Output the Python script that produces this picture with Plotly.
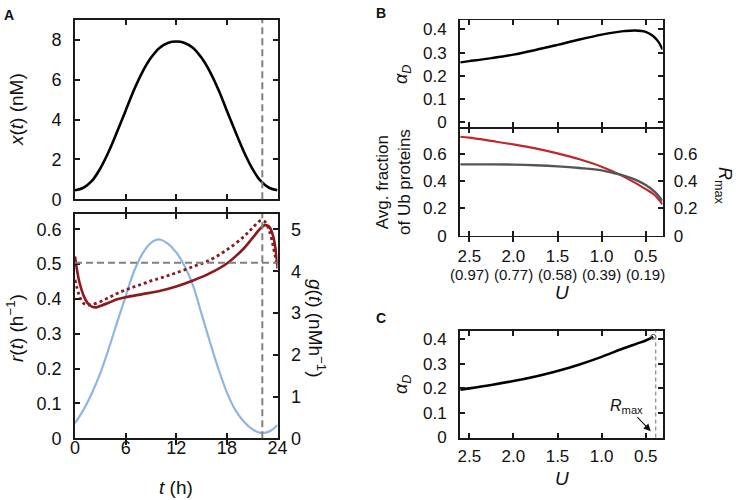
import plotly.graph_objects as go

W, H = 736, 500

# ---------------- data ----------------
# Panel A top: x(t)
t_hours = list(range(0, 25))
x_t = [0.45, 0.58, 0.92, 1.55, 2.4, 3.4, 4.45, 5.5, 6.4, 7.1, 7.6, 7.85, 7.92,
       7.85, 7.6, 7.1, 6.4, 5.5, 4.45, 3.4, 2.4, 1.55, 0.92, 0.58, 0.45]

# Panel A bottom: g(t) (blue, right axis)
g_t = [0.36, 0.68, 1.08, 1.56, 2.15, 2.78, 3.4, 4.0, 4.42, 4.68, 4.76, 4.66, 4.45,
       4.12, 3.65, 2.98, 2.3, 1.66, 1.1, 0.68, 0.4, 0.22, 0.13, 0.16, 0.32]

# r(t) solid
t_r = [0, 0.5, 1, 1.5, 2, 2.5, 3, 4, 5, 6, 8, 10, 12, 14, 16, 18, 20, 21, 22, 22.5, 23, 23.5, 24]
r_t = [0.522, 0.45, 0.411, 0.388, 0.378, 0.376, 0.38, 0.389, 0.399, 0.405, 0.414, 0.423,
       0.436, 0.453, 0.474, 0.502, 0.545, 0.574, 0.603, 0.612, 0.608, 0.579, 0.493]

# r(t) dotted
t_r_dot = [0, 0.5, 1, 1.5, 2, 3, 4, 5, 6, 7, 8, 9, 10, 11, 12, 14, 16, 18, 20, 21, 22,
           22.5, 23, 23.5, 24]
r_dot = [0.455, 0.411, 0.388, 0.383, 0.384, 0.392, 0.404, 0.416, 0.426, 0.435, 0.443,
         0.452, 0.459, 0.467, 0.475, 0.493, 0.512, 0.541, 0.579, 0.603, 0.625, 0.622,
         0.598, 0.55, 0.488]

t_dashed = 22.2
r_dashed = 0.504
t_ticks = [0, 6, 12, 18, 24]

# Panel B top: alpha_D vs U
U_Btop = [2.6, 2.5, 2.25, 2.0, 1.75, 1.5, 1.25, 1.0, 0.85, 0.75, 0.62, 0.5, 0.42, 0.36, 0.31]
alpha_Btop = [0.258, 0.263, 0.276, 0.291, 0.311, 0.333, 0.356, 0.377, 0.387, 0.392,
              0.395, 0.389, 0.372, 0.348, 0.313]

# Panel B bottom: avg fraction of Ub proteins (red) and R_max (gray)
U_Bred = [2.6, 2.5, 2.25, 2.0, 1.75, 1.5, 1.25, 1.0, 0.85, 0.75, 0.5, 0.4, 0.31]
frac_ub = [0.724, 0.717, 0.693, 0.668, 0.639, 0.602, 0.559, 0.505, 0.463, 0.432, 0.341,
           0.298, 0.229]
U_Bgray = [2.6, 2.25, 2.0, 1.75, 1.5, 1.25, 1.0, 0.85, 0.75, 0.62, 0.5, 0.4, 0.31]
r_max = [0.522, 0.522, 0.52, 0.515, 0.507, 0.495, 0.478, 0.456, 0.439, 0.41, 0.371,
         0.322, 0.254]

U_ticks = [2.5, 2.0, 1.5, 1.0, 0.5]
U_ticktext = ["2.5", "2.0", "1.5", "1.0", "0.5"]
frac_labels = ["(0.97)", "(0.77)", "(0.58)", "(0.39)", "(0.19)"]

# Panel C
U_C = [2.6, 2.5, 2.25, 2.0, 1.75, 1.5, 1.25, 1.0, 0.75, 0.6, 0.5, 0.414]
alpha_C = [0.194, 0.199, 0.213, 0.229, 0.248, 0.27, 0.297, 0.328, 0.363, 0.382, 0.395, 0.41]
U_rmax_C = 0.387

# ---------------- styling ----------------
FONT = "Liberation Sans, Arial, sans-serif"
AXC = "#1a1a1a"
DARKRED = "#8b1a1f"
BLUE = "#8fb6dc"
BRED = "#c0272d"
BGRAY = "#555555"
DASH = "#808080"


def px_x(a, b):
    return [a / W, b / W]


def px_y(top, bottom):
    return [1 - bottom / H, 1 - top / H]


def ax(**kw):
    d = dict(showline=True, linecolor=AXC, linewidth=1.8, ticks="inside", ticklen=5,
             tickwidth=1.5, tickcolor=AXC, showgrid=False, zeroline=False, automargin=False,
             tickfont=dict(family=FONT, size=17, color="#111"))
    d.update(kw)
    return d


fig = go.Figure()

# A top
fig.add_trace(go.Scatter(x=t_hours, y=x_t, mode="lines", line=dict(color="black", width=2.6, shape="spline"),
                         xaxis="x", yaxis="y", showlegend=False))
# A bottom
fig.add_trace(go.Scatter(x=t_hours, y=g_t, mode="lines", line=dict(color=BLUE, width=2.2, shape="spline"),
                         xaxis="x2", yaxis="y2", showlegend=False))
fig.add_trace(go.Scatter(x=t_r_dot, y=r_dot, mode="lines",
                         line=dict(color=DARKRED, width=2.8, dash="dot", shape="spline"),
                         xaxis="x2", yaxis="y3", showlegend=False))
fig.add_trace(go.Scatter(x=t_r, y=r_t, mode="lines", line=dict(color=DARKRED, width=2.6, shape="spline"),
                         xaxis="x2", yaxis="y3", showlegend=False))
# B top
fig.add_trace(go.Scatter(x=U_Btop, y=alpha_Btop, mode="lines", line=dict(color="black", width=2.4, shape="spline"),
                         xaxis="x3", yaxis="y4", showlegend=False))
# B bottom
fig.add_trace(go.Scatter(x=U_Bgray, y=r_max, mode="lines", line=dict(color=BGRAY, width=2.4, shape="spline"),
                         xaxis="x4", yaxis="y6", showlegend=False))
fig.add_trace(go.Scatter(x=U_Bred, y=frac_ub, mode="lines", line=dict(color=BRED, width=2.2, shape="spline"),
                         xaxis="x4", yaxis="y5", showlegend=False))
# C
fig.add_trace(go.Scatter(x=U_C, y=alpha_C, mode="lines", line=dict(color="black", width=2.6, shape="spline"),
                         xaxis="x5", yaxis="y7", showlegend=False))
fig.add_trace(go.Scatter(x=[U_C[-1]], y=[alpha_C[-1]], mode="markers",
                         marker=dict(symbol="circle-open", size=5, color="#444", line=dict(width=1)),
                         xaxis="x5", yaxis="y7", showlegend=False))

Ax = px_x(75, 277.5)
Bx = px_x(460, 662.5)
U_range = [2.605, 0.31]

fig.update_layout(
    width=W, height=H, margin=dict(l=0, r=0, t=0, b=0, autoexpand=False),
    paper_bgcolor="white", plot_bgcolor="white",
    font=dict(family=FONT, color="#111"),
    xaxis=ax(domain=Ax, anchor="y", range=[0, 24], tickvals=t_ticks, showticklabels=False, mirror="allticks"),
    yaxis=ax(domain=px_y(20, 199.3), anchor="x", range=[0, 9], tickvals=[0, 2, 4, 6, 8],
             mirror="allticks", tickfont=dict(family=FONT, size=18), ticklabelstandoff=8),
    xaxis2=ax(domain=Ax, anchor="y2", range=[0, 24], tickvals=t_ticks, mirror="allticks",
              tickfont=dict(family=FONT, size=18), ticklabelstandoff=-8),
    yaxis2=ax(domain=px_y(214, 438.3), anchor="x2", side="right", range=[0, 5.37],
              tickvals=[0, 1, 2, 3, 4, 5], tickfont=dict(family=FONT, size=18), ticklabelstandoff=8),
    yaxis3=ax(domain=px_y(214, 438.3), anchor="x2", side="left", overlaying="y2", range=[0, 0.644],
              tickvals=[0, 0.1, 0.2, 0.3, 0.4, 0.5, 0.6], ticktext=["0", "0.1", "0.2", "0.3", "0.4", "0.5", "0.6"],
              tickfont=dict(family=FONT, size=18), ticklabelstandoff=8),
    xaxis3=ax(domain=Bx, anchor="y4", range=U_range, tickvals=U_ticks, showticklabels=False,
              mirror="allticks", linewidth=1.1),
    yaxis4=ax(domain=px_y(20, 127.7), anchor="x3", range=[-0.023, 0.44], tickvals=[0, 0.1, 0.2, 0.3, 0.4],
              ticktext=["0", "0.1", "0.2", "0.3", "0.4"], mirror="allticks", ticklabelstandoff=8),
    xaxis4=ax(domain=Bx, anchor="y5", range=U_range, tickvals=U_ticks, ticktext=U_ticktext,
              mirror="allticks", linewidth=1.1, ticklabelstandoff=5),
    yaxis5=ax(domain=px_y(127.7, 235.7), anchor="x4", side="left", range=[0, 0.79],
              tickvals=[0, 0.2, 0.4, 0.6], ticktext=["0", "0.2", "0.4", "0.6"], ticklabelstandoff=8),
    yaxis6=ax(domain=px_y(127.7, 235.7), anchor="x4", side="right", overlaying="y5", range=[0, 0.79],
              tickvals=[0, 0.2, 0.4, 0.6], ticktext=["0", "0.2", "0.4", "0.6"], ticklabelstandoff=6),
    xaxis5=ax(domain=Bx, anchor="y7", range=U_range, tickvals=U_ticks, ticktext=U_ticktext,
              mirror="allticks", ticklabelstandoff=2),
    yaxis7=ax(domain=px_y(330.7, 437.5), anchor="x5", range=[-0.002, 0.435], tickvals=[0, 0.1, 0.2, 0.3, 0.4],
              ticktext=["0", "0.1", "0.2", "0.3", "0.4"], mirror="allticks", ticklabelstandoff=8),
)

dash_line = dict(color=DASH, width=2, dash="7px,4px")
fig.add_shape(type="line", xref="x", yref="y domain", x0=t_dashed, x1=t_dashed, y0=0, y1=1,
              line=dash_line, layer="above")
fig.add_shape(type="line", xref="x2", yref="y3 domain", x0=t_dashed, x1=t_dashed, y0=0, y1=1,
              line=dash_line, layer="above")
fig.add_shape(type="line", xref="x2 domain", yref="y3", x0=0, x1=1, y0=r_dashed, y1=r_dashed,
              line=dash_line, layer="above")
fig.add_shape(type="line", xref="x5", yref="y7 domain", x0=U_rmax_C, x1=U_rmax_C, y0=0, y1=1,
              line=dict(color="#888", width=1.2, dash="4px,3px"), layer="above")


def ann(text, xpx, ypx, size=18, angle=0, **kw):
    fig.add_annotation(text=text, x=xpx / W, y=1 - ypx / H, xref="paper", yref="paper",
                       showarrow=False, textangle=angle, xanchor="center", yanchor="middle",
                       font=dict(family=FONT, size=size, color="#111"), **kw)


# panel letters
ann("<b>A</b>", 9, 15, size=14)
ann("<b>B</b>", 381, 13, size=14)
ann("<b>C</b>", 381, 318, size=14)

# axis titles
ann("<i>x</i>(<i>t</i>) (nM)", 17, 110, size=19, angle=-90)
ann("<i>r</i>(<i>t</i>) (h<sup>−1</sup>)", 15, 328, size=19, angle=-90)
ann("<i>g</i>(<i>t</i>) (nMh<sup>−1</sup>)", 317, 328, size=19, angle=90)
ann("<i>t</i> (h)", 176, 487, size=19)
ann("<i>α</i><sub><i>D</i></sub>", 402, 75, size=18, angle=-90)
ann("Avg. fraction<br>of Ub proteins", 393, 182, size=17, angle=-90)
ann("<i>R</i><sub>max</sub>", 724, 185, size=18, angle=90)
ann("<i>U</i>", 562, 292, size=19)
ann("<i>α</i><sub><i>D</i></sub>", 402, 385, size=18, angle=-90)
ann("<i>U</i>", 562, 478, size=19)

# parenthetical U labels
for u, lab in zip(U_ticks, frac_labels):
    fig.add_annotation(text=lab, x=u, y=1 - 274.3 / H, xref="x4", yref="paper", showarrow=False,
                       xanchor="center", yanchor="middle", font=dict(family=FONT, size=15, color="#111"))

# R_max arrow annotation in C
fig.add_annotation(text="<i>R</i><sub>max</sub>", x=0.443, y=0.024, xref="x5", yref="y7",
                   ax=0.715, ay=0.126, axref="x5", ayref="y7", showarrow=True,
                   arrowhead=2, arrowsize=1.3, arrowwidth=1.1, arrowcolor="#111",
                   font=dict(family=FONT, size=16, color="#111"))

fig.write_html("out.html", config={"displayModeBar": False},
               post_script="document.body.style.margin='0px';document.body.style.overflow='hidden';")
